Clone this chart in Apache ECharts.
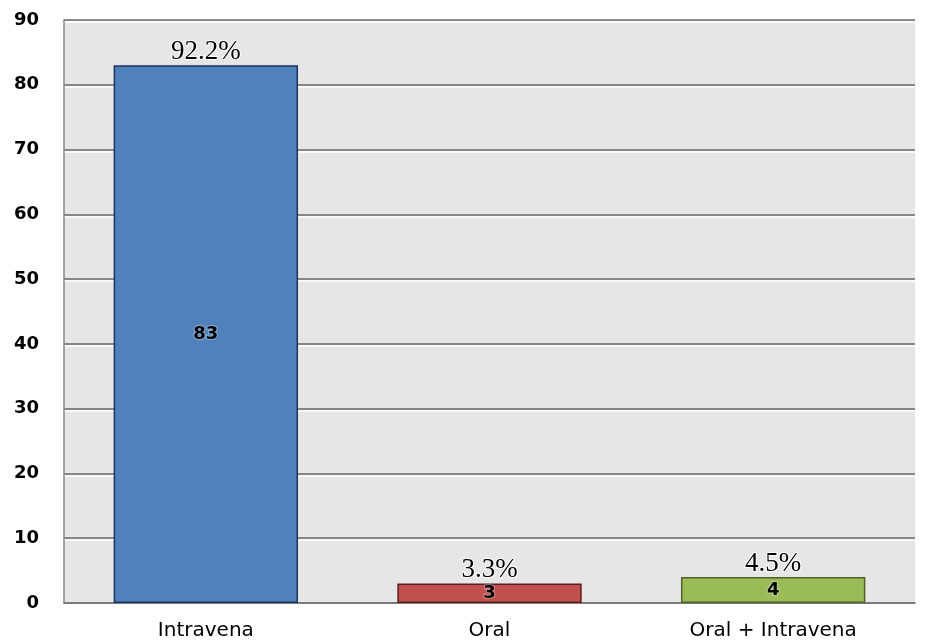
<!DOCTYPE html>
<html>
<head>
<meta charset="utf-8">
<script src="https://cdn.jsdelivr.net/npm/echarts@6/dist/echarts.min.js"></script>
<style>html,body{margin:0;padding:0;background:#fff;}#c{width:925px;height:641px;}</style>
</head>
<body>
<div id="c"></div>
<script>
const categories = ['Intravena', 'Oral', 'Oral + Intravena'];
const counts = [83, 3, 4];
const percentLabels = ['92.2%', '3.3%', '4.5%'];
const yTicks = [0, 10, 20, 30, 40, 50, 60, 70, 80, 90];
const barColors = ['#4f81bd', '#c0504d', '#9bbb59'];
const barBorders = ['#1c355e', '#5c1f1d', '#4f6228'];

const chart = echarts.init(document.getElementById('c'));
chart.setOption({
  animation: false,
  grid: { left: 64, right: 10, top: 20, bottom: 38, show: true, backgroundColor: '#e6e6e6', borderWidth: 0 },
  xAxis: {
    type: 'category', data: categories,
    axisLine: { show: true, lineStyle: { color: '#777', width: 1.5 } },
    axisTick: { show: false },
    axisLabel: { color: '#000', fontFamily: 'DejaVu Sans', fontSize: 20, margin: 18 }
  },
  yAxis: {
    type: 'value', min: yTicks[0], max: yTicks[yTicks.length - 1], interval: 10,
    axisLine: { show: true, lineStyle: { color: '#888', width: 1.5 } },
    axisTick: { show: false },
    axisLabel: { color: '#000', fontFamily: 'DejaVu Sans', fontWeight: 'bold', fontSize: 18, margin: 25 },
    splitLine: { show: true, lineStyle: { color: '#666', width: 1.5, shadowColor: '#ffffff', shadowOffsetY: 2, shadowBlur: 0 } }
  },
  series: [
    {
      type: 'bar', barWidth: '65%',
      data: counts.map((v, i) => ({ value: v, itemStyle: { color: barColors[i], borderColor: barBorders[i], borderWidth: 1.5 } })),
      label: { show: true, position: 'inside', color: '#000', fontFamily: 'DejaVu Sans', fontWeight: 'bold', fontSize: 18, textBorderColor: 'rgba(255,255,255,0.35)', textBorderWidth: 2 },
      z: 3
    },
    {
      type: 'bar', barWidth: '65%', barGap: '-100%',
      data: counts,
      itemStyle: { color: 'rgba(0,0,0,0)', borderWidth: 0 },
      label: { show: true, position: 'top', distance: 0, color: '#000', fontFamily: 'Liberation Serif', fontSize: 27,
        textBorderColor: '#fff', textBorderWidth: 2,
        formatter: p => percentLabels[p.dataIndex] },
      z: 4, silent: true
    }
  ]
});
</script>
</body>
</html>
